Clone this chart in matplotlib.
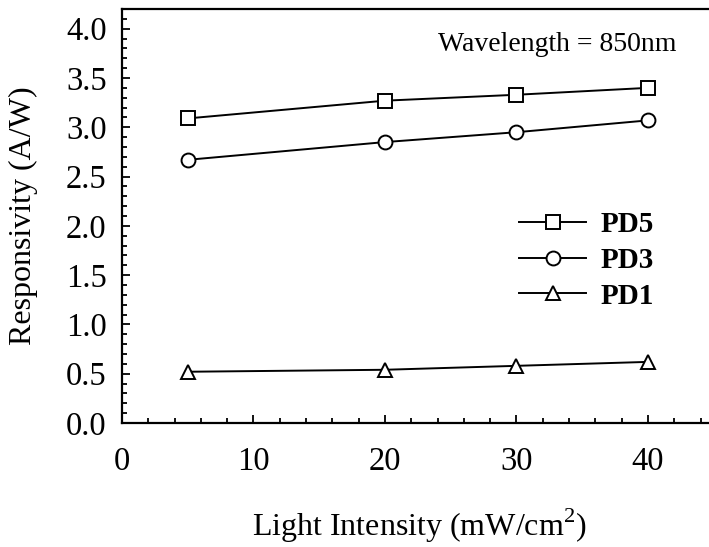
import matplotlib
matplotlib.use("Agg")
import matplotlib.pyplot as plt
from matplotlib.ticker import MultipleLocator

plt.rcParams["font.family"] = ["Liberation Serif", "DejaVu Serif"]
plt.rcParams["mathtext.fontset"] = "custom"
plt.rcParams["mathtext.rm"] = "Liberation Serif"

# light intensity (mW/cm^2)
intensity = [5, 20, 30, 40]

# responsivity (A/W)
pd5 = [3.09, 3.27, 3.33, 3.40]
pd3 = [2.67, 2.85, 2.95, 3.07]
pd1 = [0.52, 0.54, 0.58, 0.62]

W, H = 709, 547
fig = plt.figure(figsize=(W / 100, H / 100), dpi=100)
ax = fig.add_axes([122 / W, 1 - 423 / H, 1 - 122 / W, (423 - 9) / H])

style = dict(color="black", linewidth=1.4, markerfacecolor="white",
             markeredgecolor="black", markeredgewidth=1.4)
ax.plot(intensity, pd5, marker="s", markersize=10, label="PD5", **style)
ax.plot(intensity, pd3, marker="o", markersize=10, label="PD3", **style)
ax.plot(intensity, pd1, marker="^", markersize=10, label="PD1", **style)

ax.set_xlim(0, 44.64)
ax.set_ylim(0, 4.2)
ax.xaxis.set_major_locator(MultipleLocator(10))
ax.xaxis.set_minor_locator(MultipleLocator(2))
ax.yaxis.set_major_locator(MultipleLocator(0.5))
ax.yaxis.set_minor_locator(MultipleLocator(0.1))
ax.yaxis.set_major_formatter(plt.FuncFormatter(lambda v, p: f"{v:.1f}"))

ax.tick_params(which="both", direction="in", top=False, right=False, width=1.3)
ax.tick_params(which="major", length=6)
ax.tick_params(which="minor", length=3.5)
ax.tick_params(axis="y", which="major", labelsize=23.5, pad=11)
ax.tick_params(axis="x", which="major", labelsize=23.5, pad=17)

for side in ["left", "bottom", "top"]:
    ax.spines[side].set_linewidth(1.6)
ax.spines["right"].set_visible(False)

ax.set_xlabel("Light Intensity (mW/cm$^2$)", fontsize=23)
ax.set_ylabel("Responsivity (A/W)", fontsize=23)
ax.xaxis.set_label_coords((419 - 122) / 587, -(536 - 423) / 414, transform=ax.transAxes)
ax.xaxis.label.set_va("baseline")
ax.yaxis.set_label_coords(-(122 - 38) / 587, 0.5)

ax.text(42.2, 3.84, "Wavelength = 850nm", fontsize=20, ha="right", va="center")

leg = ax.legend(loc="upper left", bbox_to_anchor=((519 - 122) / 587, 1 - (211 - 9) / 414),
                frameon=False, prop={"weight": "bold", "size": 21},
                handlelength=2.3, handletextpad=0.5, labelspacing=0.3,
                borderpad=0, borderaxespad=0)

fig.savefig("out.png", dpi=100)
